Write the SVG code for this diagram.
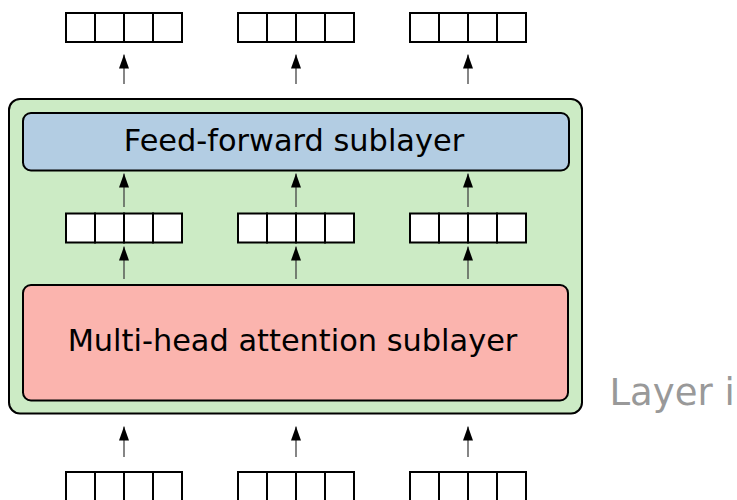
<svg xmlns="http://www.w3.org/2000/svg" width="737" height="500" viewBox="0 0 737 500">
<defs>
<style>
.cell{fill:#ffffff;stroke:#000000;stroke-width:2}
.arr{stroke:#444444;stroke-width:1.3;fill:none;marker-end:url(#ah)}
.lbl{font-family:"DejaVu Sans",sans-serif;font-size:30.4px;fill:#000000;text-anchor:middle}
</style>
<marker id="ah" viewBox="0 0 14 10" refX="14" refY="5" markerWidth="14" markerHeight="10.5" markerUnits="userSpaceOnUse" orient="auto">
<path d="M0,0 L14,5 L0,10 z" fill="#000000"/>
</marker>
<g id="vec">
<rect class="cell" x="0" y="0" width="29" height="29"/>
<rect class="cell" x="29" y="0" width="29" height="29"/>
<rect class="cell" x="58" y="0" width="29" height="29"/>
<rect class="cell" x="87" y="0" width="29" height="29"/>
</g>
</defs>
<rect width="737" height="500" fill="#ffffff"/>
<g id="layer">
<rect x="9" y="99" width="573" height="314.5" rx="11" fill="#ccebc5" stroke="#000000" stroke-width="2"/>
<text x="609.5" y="405" font-family="DejaVu Sans, sans-serif" font-size="37" fill="#999999">Layer i</text>
</g>
<g id="ff">
<rect x="23" y="113" width="546" height="57.5" rx="8" fill="#b3cde3" stroke="#000000" stroke-width="2"/>
<text class="lbl" x="294" y="151">Feed-forward sublayer</text>
</g>
<g id="mha">
<rect x="23" y="285" width="545" height="115.5" rx="8" fill="#fbb4ae" stroke="#000000" stroke-width="2"/>
<text class="lbl" x="292.5" y="351">Multi-head attention sublayer</text>
</g>
<g id="out1"><use href="#vec" x="66" y="13"/></g>
<g id="out2"><use href="#vec" x="238" y="13"/></g>
<g id="out3"><use href="#vec" x="410" y="13"/></g>
<g id="mid1"><use href="#vec" x="66" y="213.5"/></g>
<g id="mid2"><use href="#vec" x="238" y="213.5"/></g>
<g id="mid3"><use href="#vec" x="410" y="213.5"/></g>
<g id="in1"><use href="#vec" x="66" y="472"/></g>
<g id="in2"><use href="#vec" x="238" y="472"/></g>
<g id="in3"><use href="#vec" x="410" y="472"/></g>
<g id="connectors">
<line class="arr" x1="124" y1="84" x2="124" y2="54.5"/>
<line class="arr" x1="296" y1="84" x2="296" y2="54.5"/>
<line class="arr" x1="468" y1="84" x2="468" y2="54.5"/>
<line class="arr" x1="124" y1="207" x2="124" y2="173.5"/>
<line class="arr" x1="296" y1="207" x2="296" y2="173.5"/>
<line class="arr" x1="468" y1="207" x2="468" y2="173.5"/>
<line class="arr" x1="124" y1="279" x2="124" y2="246.5"/>
<line class="arr" x1="296" y1="279" x2="296" y2="246.5"/>
<line class="arr" x1="468" y1="279" x2="468" y2="246.5"/>
<line class="arr" x1="124" y1="457" x2="124" y2="426.5"/>
<line class="arr" x1="296" y1="457" x2="296" y2="426.5"/>
<line class="arr" x1="468" y1="457" x2="468" y2="426.5"/>
</g>
</svg>
